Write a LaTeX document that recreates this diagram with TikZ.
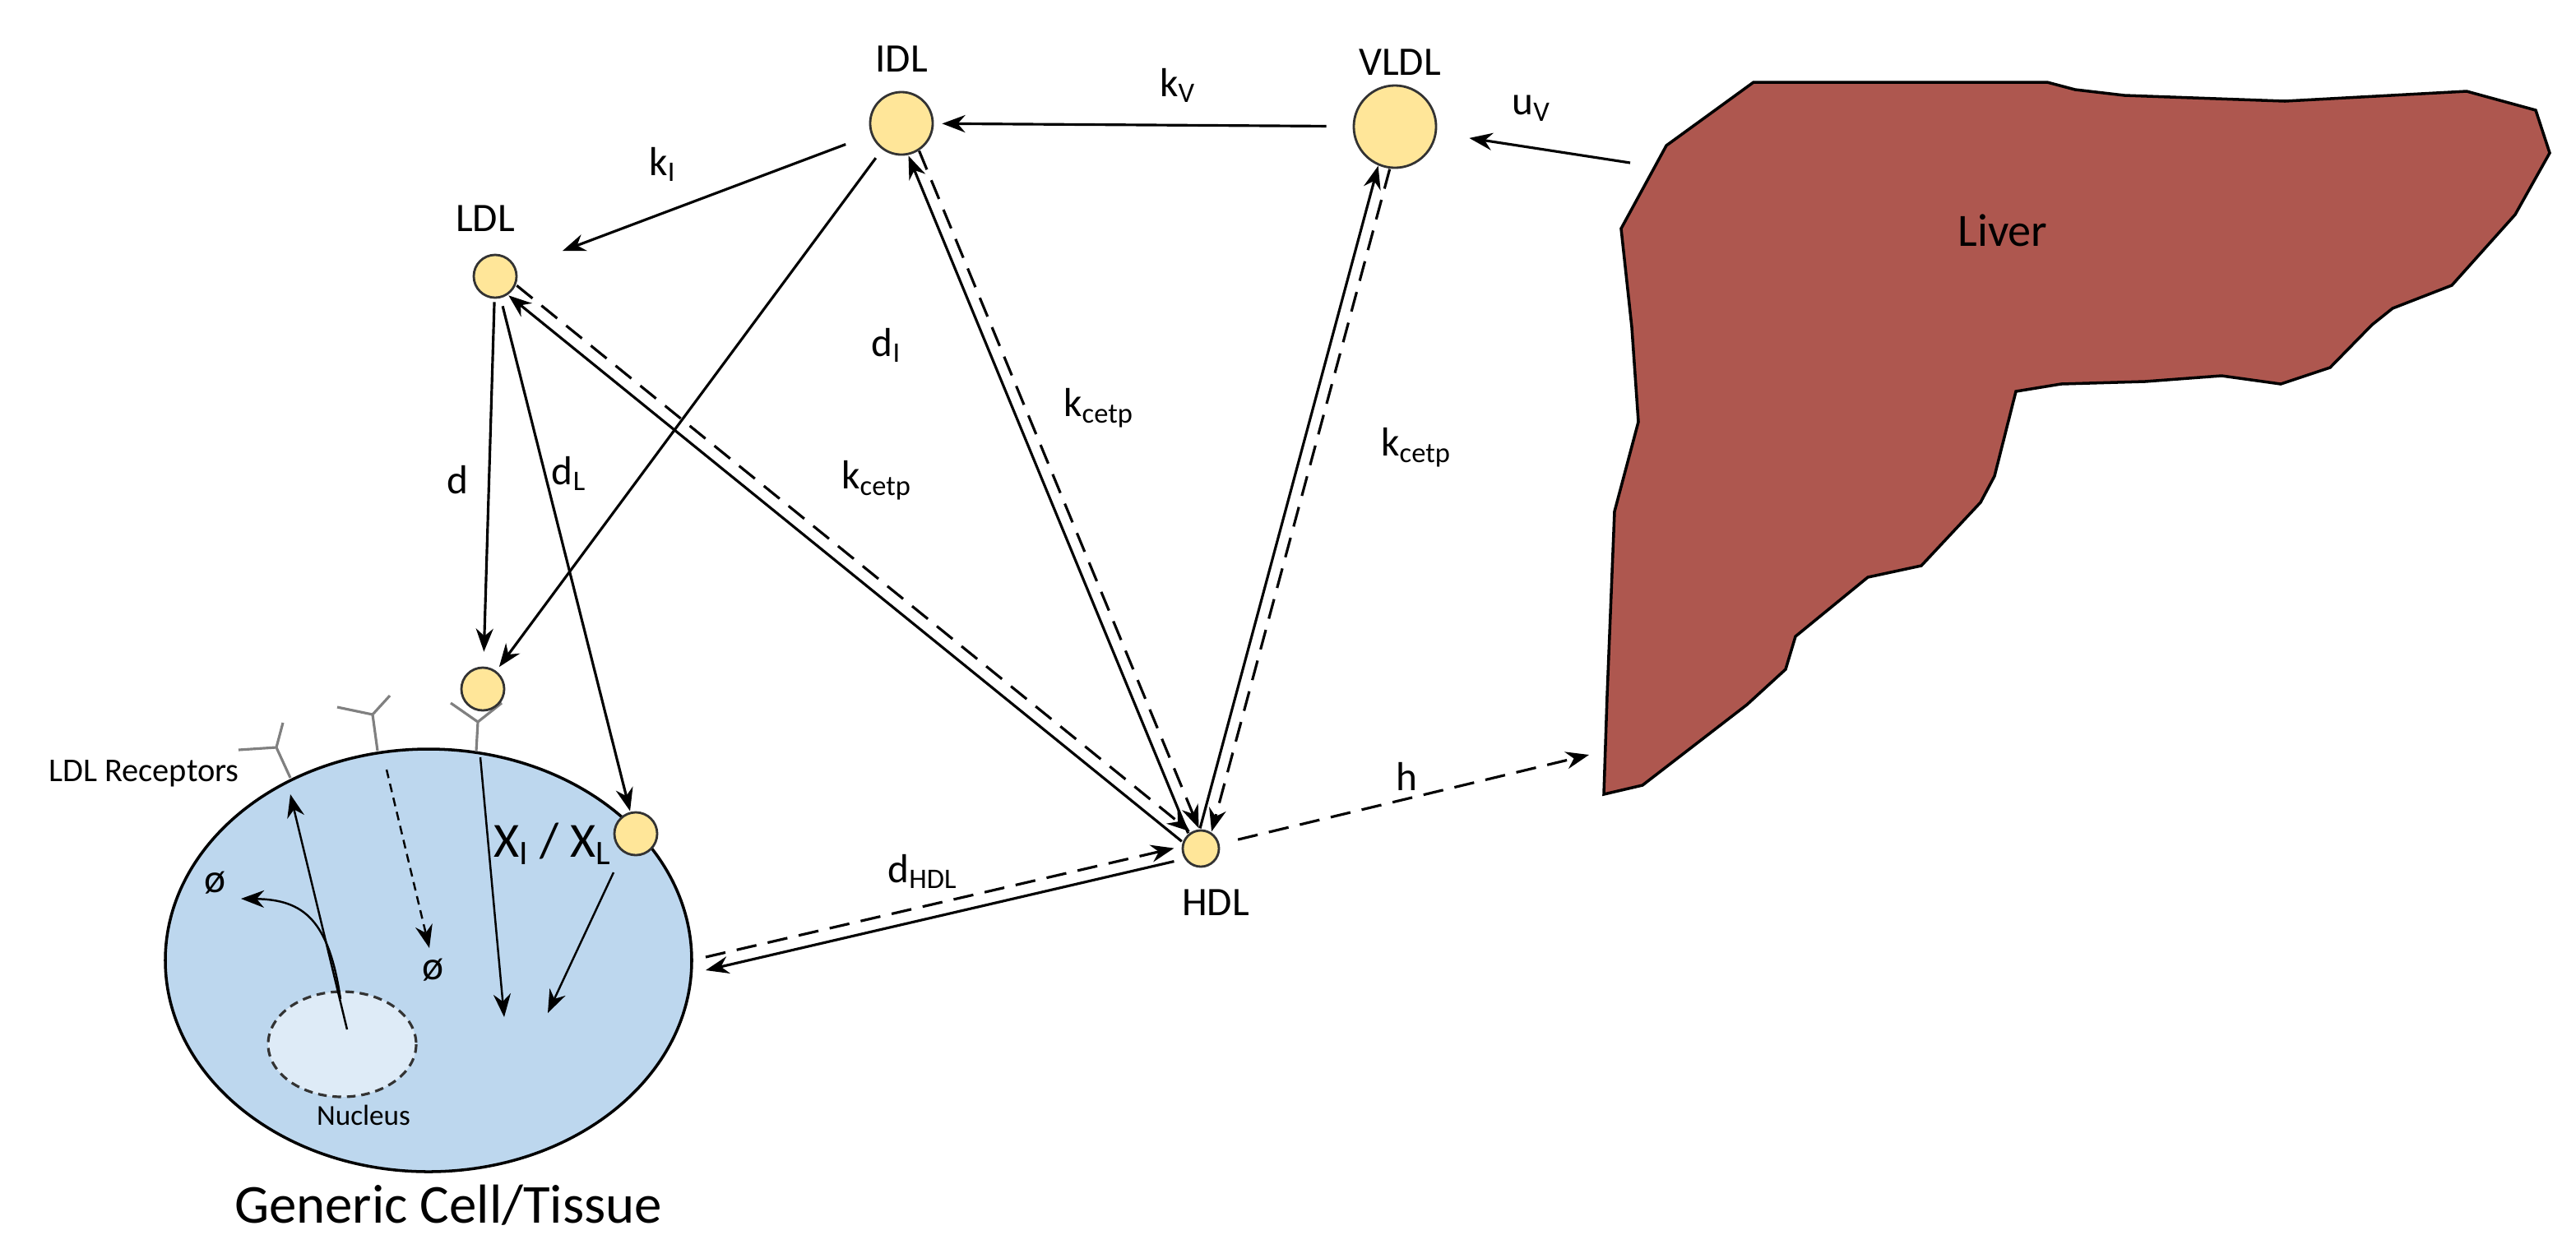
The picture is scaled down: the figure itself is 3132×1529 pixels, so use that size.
\documentclass[tikz,border=0pt]{standalone}
\usepackage{fontspec}
\setmainfont{Carlito}
\usetikzlibrary{arrows.meta}
\definecolor{lipoyellow}{RGB}{255,230,153}
\definecolor{cellblue}{RGB}{189,215,238}
\definecolor{nucblue}{RGB}{222,235,247}
\definecolor{liverred}{RGB}{174,87,79}
\tikzset{
	Lipo/.style={circle,draw=black!80,fill=lipoyellow,line width=0.8pt,inner sep=0pt},
	Arr/.style={-{Stealth[length=8pt,width=6pt]},line width=0.9pt},
	DArr/.style={Arr,dash pattern=on 7pt off 4pt},
	Lbl/.style={font=\fontsize{14}{16}\selectfont},
	Receptor/.style={gray,line width=0.9pt}
}
\begin{document}
\begin{tikzpicture}[x=0.01cm,y=-0.01cm]
\useasboundingbox (0,0) rectangle (3132,1529);
%Liver
\draw[black,fill=liverred,line width=1pt] (2132,100)--(2489,100)--(2523,109)--(2583,116)--(2778,123)--(2999,111)--(3083,134)--(3100,186)--(3058,261)--(2981,347)--(2909,375)--(2884,395)--(2833,447)--(2773,467)--(2701,457)--(2608,464)--(2506,467)--(2451,476)--(2425,579)--(2408,611)--(2336,688)--(2271,702)--(2183,774)--(2171,814)--(2124,857)--(1997,955)--(1950,966)--(1954,846)--(1963,622)--(1992,513)--(1984,398)--(1971,278)--(2026,177)--cycle;
\node[font=\fontsize{16}{18}\selectfont] (liver) at (2435,280) {Liver};
\coordinate (livV) at (1982,198);
\coordinate (livH) at (1932,918);

%Cell
\draw[black,fill=cellblue,line width=1pt] (521,1168) ellipse (320 and 257);
\draw[black!80,fill=nucblue,line width=0.9pt,dash pattern=on 3pt off 2pt] (416,1270) ellipse (90 and 64);
\node[font=\fontsize{10}{12}\selectfont] (nuc) at (442,1356) {Nucleus};
\node[font=\fontsize{19}{22}\selectfont] (cell) at (545,1466) {Generic Cell/Tissue};
\node[font=\fontsize{11.5}{13}\selectfont] (rec) at (175,941) {LDL Receptors};
\coordinate (cellR) at (858,1172);

%Receptors
\draw[Receptor] (353,946)--(336,909)--(290,912) (336,909)--(344,879);
\draw[Receptor] (459,913)--(453,869)--(410,860) (453,869)--(474,846);
\draw[Receptor] (579,914)--(581,878)--(548,855) (581,878)--(610,855);

%Lipoproteins
\node[Lipo,minimum size=0.76cm] (idl) at (1096,150) {};
\node[Lipo,minimum size=1.0cm] (vldl) at (1696,154) {};
\node[Lipo,minimum size=0.52cm] (ldl) at (602,336) {};
\node[Lipo,minimum size=0.52cm] (bound) at (587,838) {};
\node[Lipo,minimum size=0.52cm] (inner) at (773,1014) {};
\node[Lipo,minimum size=0.44cm] (hdl) at (1460,1032) {};
\node[font=\fontsize{14}{16}\selectfont] at (1096,72) {IDL};
\node[font=\fontsize{14}{16}\selectfont] at (1702,76) {VLDL};
\node[font=\fontsize{14}{16}\selectfont] at (590,266) {LDL};
\node[font=\fontsize{14}{16}\selectfont] at (1478,1098) {HDL};

%Connectors
\draw[Arr,shorten <=0.33cm,shorten >=0.6cm] (idl) -- (ldl);
\draw[Arr,shorten <=0.32cm,shorten >=0.1cm] (vldl) -- (idl);
\draw[Arr,shorten >=0.4cm] (livV) -- (vldl);
\draw[Arr,shorten <=0.04cm,shorten >=0.18cm] (ldl) -- (bound);
\draw[Arr,shorten <=0.13cm,shorten >=0.06cm] (idl) -- (bound);
\draw[Arr,shorten <=0.1cm,shorten >=0.01cm] (ldl) -- (inner);
\draw[Arr,transform canvas={shift={(-0.05cm,-0.06cm)}}] (hdl) -- (ldl);
\draw[DArr,transform canvas={shift={(0.05cm,0.06cm)}}] (ldl) -- (hdl);
\draw[Arr,transform canvas={shift={(-0.065cm,-0.03cm)}}] (hdl) -- (idl);
\draw[DArr,transform canvas={shift={(0.065cm,0.03cm)}}] (idl) -- (hdl);
\draw[Arr,transform canvas={shift={(-0.07cm,0.02cm)}}] (hdl) -- (vldl);
\draw[DArr,transform canvas={shift={(0.07cm,-0.02cm)}}] (vldl) -- (hdl);
\draw[DArr,shorten <=0.23cm] (hdl) -- (livH);
\draw[DArr,shorten >=0.1cm,transform canvas={yshift=0.08cm}] (cellR) -- (hdl);
\draw[Arr,shorten <=0.1cm,transform canvas={yshift=-0.08cm}] (hdl) -- (cellR);

%Inside the cell
\draw[Arr,line width=0.7pt] (422,1252) -- (353,966);
\draw[Arr,line width=0.7pt] (414,1215) .. controls (400,1120) and (370,1094) .. (293,1093);
\draw[DArr,line width=0.7pt,dash pattern=on 3pt off 2pt] (470,936) -- (522,1153);
\draw[Arr,line width=0.7pt] (584,921) -- (613,1237);
\draw[Arr,line width=0.7pt] (746,1061) -- (666,1232);
\node[font=\fontsize{14}{16}\selectfont] at (262,1074) {ø};
\node[font=\fontsize{14}{16}\selectfont] at (527,1180) {ø};
\node[font=\fontsize{17}{19}\selectfont] at (672,1026) {X\textsubscript{I} / X\textsubscript{L}};

%Rate labels
\node[Lbl] at (806,200) {k\textsubscript{I}};
\node[Lbl] at (1432,104) {k\textsubscript{V}};
\node[Lbl] at (1862,132) {u\textsubscript{V}};
\node[Lbl] at (556,584) {d};
\node[Lbl] at (1078,420) {d\textsubscript{I}};
\node[Lbl] at (692,576) {d\textsubscript{L}};
\node[Lbl] at (1066,584) {k\textsubscript{cetp}};
\node[Lbl] at (1336,496) {k\textsubscript{cetp}};
\node[Lbl] at (1722,544) {k\textsubscript{cetp}};
\node[Lbl] at (1710,944) {h};
\node[Lbl] at (1122,1060) {d\textsubscript{HDL}};
\end{tikzpicture}
\end{document}
